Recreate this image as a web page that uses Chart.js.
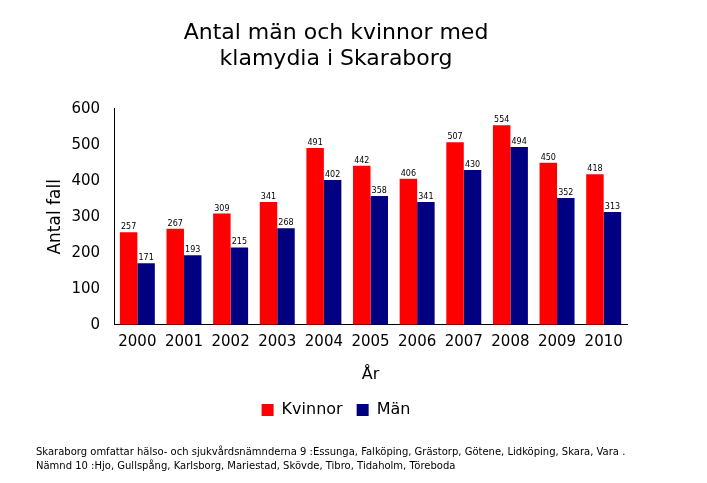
<!DOCTYPE html><html><head><meta charset="utf-8"><script src="https://cdn.jsdelivr.net/npm/chart.js@4"></script>
<style>body{margin:0;background:#fff}#w{width:707px;height:483px;position:relative}</style></head><body><div id="w"><canvas id="c"></canvas></div>
<script>
const years=['2000','2001','2002','2003','2004','2005','2006','2007','2008','2009','2010'];
const kvinnor=[257,267,309,341,491,442,406,507,554,450,418];
const man=[171,193,215,268,402,358,341,430,494,352,313];
const F='"DejaVu Sans", Verdana, sans-serif';
const labels={id:'labels',afterDatasetsDraw(ch){const x=ch.ctx;x.save();x.font='8px '+F;x.fillStyle='#000';x.textAlign='center';
ch.data.datasets.forEach((d,i)=>{ch.getDatasetMeta(i).data.forEach((b,j)=>{x.fillText(d.data[j],b.x,b.y-5);});});
x.font='10px '+F;x.textAlign='left';
x.fillText('Skaraborg omfattar hälso- och sjukvårdsnämnderna 9 :Essunga, Falköping, Grästorp, Götene, Lidköping, Skara, Vara .',36,452);
x.fillText('Nämnd 10 :Hjo, Gullspång, Karlsborg, Mariestad, Skövde, Tibro, Tidaholm, Töreboda',36,466);
x.restore();}};
new Chart(document.getElementById('c'),{type:'bar',data:{labels:years,datasets:[
{label:'Kvinnor',data:kvinnor,backgroundColor:'#ff0000',categoryPercentage:0.75,barPercentage:1},
{label:'Män',data:man,backgroundColor:'#000080',categoryPercentage:0.75,barPercentage:1}]},
options:{responsive:true,maintainAspectRatio:false,animation:false,
layout:{padding:{left:45,right:80,top:20,bottom:55}},
plugins:{title:{display:true,text:['Antal män och kvinnor med','klamydia i Skaraborg'],font:{family:F,size:22,weight:'normal'},color:'#000',padding:{bottom:36}},
legend:{position:'bottom',labels:{font:{family:F,size:16},color:'#000',boxWidth:12,boxHeight:12,padding:14}},tooltip:{enabled:false}},
scales:{x:{grid:{display:false,drawTicks:false},border:{color:'#000'},ticks:{font:{family:F,size:15},color:'#000',padding:8},
title:{display:true,text:'År',font:{family:F,size:16},color:'#000',padding:{top:6}}},
y:{min:0,max:600,grid:{display:false},border:{color:'#000'},ticks:{stepSize:100,font:{family:F,size:15},color:'#000',padding:6},
title:{display:true,text:'Antal fall',font:{family:F,size:17},color:'#000',padding:0}}}},plugins:[labels]});
</script></body></html>
